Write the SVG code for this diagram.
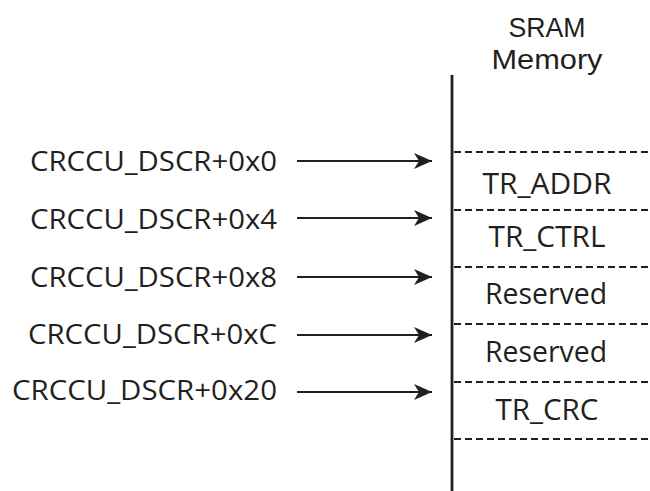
<svg xmlns="http://www.w3.org/2000/svg" width="650" height="491" viewBox="0 0 650 491">
<defs>
<style>
text{font-family:"Open Sans","Liberation Sans",sans-serif;fill:#231f20;font-size:27px}
.r{font-size:29px}
.h{font-family:"Liberation Sans",Arial,sans-serif;font-size:28px}
.l{text-anchor:end}
.m{text-anchor:middle}
.a{stroke:#231f20;stroke-width:2.2;fill:none}
.d{stroke:#231f20;stroke-width:2.2;stroke-dasharray:7 4;fill:none}
</style>
<marker id="ah" markerWidth="18" markerHeight="16" refX="18" refY="8" orient="auto" markerUnits="userSpaceOnUse">
<path d="M0,0 L18,8 L0,16 L5,8 Z" fill="#231f20"/>
</marker>
</defs>
<rect width="650" height="491" fill="#fff"/>
<g id="memory">
<text class="m h" x="547" y="37" textLength="77" lengthAdjust="spacingAndGlyphs">SRAM</text>
<text class="m h" x="547" y="69" textLength="111" lengthAdjust="spacingAndGlyphs">Memory</text>
<line x1="452" y1="75" x2="452" y2="491" stroke="#231f20" stroke-width="2.8"/>
<line class="d" x1="454" y1="152" x2="650" y2="152"/>
<line class="d" x1="454" y1="210" x2="650" y2="210"/>
<line class="d" x1="454" y1="267" x2="650" y2="267"/>
<line class="d" x1="454" y1="324" x2="650" y2="324"/>
<line class="d" x1="454" y1="382" x2="650" y2="382"/>
<line class="d" x1="454" y1="439" x2="650" y2="439"/>
</g>
<g id="cell-tr-addr"><text class="m r" x="547" y="194" textLength="129" lengthAdjust="spacingAndGlyphs">TR_ADDR</text></g>
<g id="cell-tr-ctrl"><text class="m r" x="547" y="247" textLength="117" lengthAdjust="spacingAndGlyphs">TR_CTRL</text></g>
<g id="cell-reserved-1"><text class="m r" x="546" y="304" textLength="122" lengthAdjust="spacingAndGlyphs">Reserved</text></g>
<g id="cell-reserved-2"><text class="m r" x="546" y="362" textLength="122" lengthAdjust="spacingAndGlyphs">Reserved</text></g>
<g id="cell-tr-crc"><text class="m r" x="547" y="420" textLength="103" lengthAdjust="spacingAndGlyphs">TR_CRC</text></g>
<g id="label-0x0"><text class="l" x="277" y="171" textLength="247" lengthAdjust="spacingAndGlyphs">CRCCU_DSCR+0x0</text></g>
<g id="label-0x4"><text class="l" x="277" y="229" textLength="247" lengthAdjust="spacingAndGlyphs">CRCCU_DSCR+0x4</text></g>
<g id="label-0x8"><text class="l" x="277" y="287" textLength="247" lengthAdjust="spacingAndGlyphs">CRCCU_DSCR+0x8</text></g>
<g id="label-0xC"><text class="l" x="277" y="344" textLength="249" lengthAdjust="spacingAndGlyphs">CRCCU_DSCR+0xC</text></g>
<g id="label-0x20"><text class="l" x="277" y="400" textLength="265" lengthAdjust="spacingAndGlyphs">CRCCU_DSCR+0x20</text></g>
<g id="connectors">
<line class="a" x1="297" y1="161" x2="432" y2="161" marker-end="url(#ah)"/>
<line class="a" x1="297" y1="218" x2="432" y2="218" marker-end="url(#ah)"/>
<line class="a" x1="297" y1="277" x2="432" y2="277" marker-end="url(#ah)"/>
<line class="a" x1="297" y1="335" x2="432" y2="335" marker-end="url(#ah)"/>
<line class="a" x1="297" y1="392" x2="432" y2="392" marker-end="url(#ah)"/>
</g>
</svg>
